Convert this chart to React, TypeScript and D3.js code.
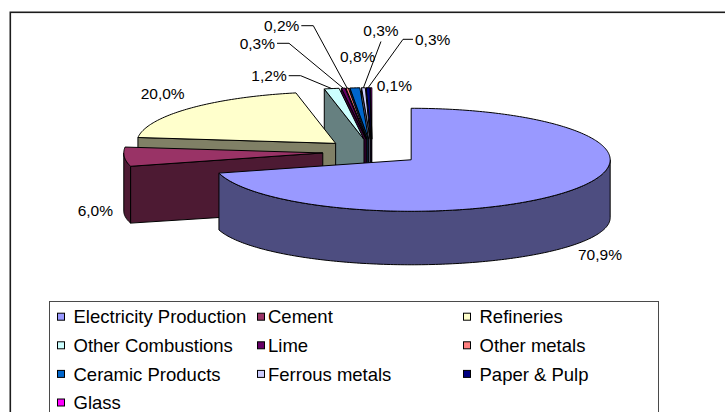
import React from 'react';
import * as d3 from 'd3';

// Sector shares (%), in drawing order clockwise from 12 o'clock
const categories = [
  'Electricity Production',
  'Cement',
  'Refineries',
  'Other Combustions',
  'Lime',
  'Other metals',
  'Ceramic Products',
  'Ferrous metals',
  'Paper & Pulp',
  'Glass',
];
const shares = [70.9, 6.0, 20.0, 1.2, 0.3, 0.2, 0.8, 0.3, 0.3, 0.1];
const fillColors = [
  '#9999FF',
  '#993366',
  '#FFFFCC',
  '#CCFFFF',
  '#660066',
  '#FF8080',
  '#0066CC',
  '#CCCCFF',
  '#000080',
  '#FF00FF',
];

// Data label layout: anchor x, centre y, text alignment and leader style
const labelX = [578, 113, 140.7, 286.7, 275, 299.3, 340, 363.3, 415, 376.7];
const labelY = [254.5, 210, 93, 75.7, 43.3, 25.7, 56.7, 30, 39.3, 85];
const labelAlign = ['start', 'end', 'start', 'end', 'end', 'end', 'start', 'start', 'start', 'start'];
const leaderKind = ['none', 'none', 'none', 'right', 'right', 'right', 'none', 'below', 'left', 'none'];

// Legend grid
const legendCols = 3;
const legendSwatchX = [57, 257, 463];
const legendTextX = [73.5, 268, 479.5];

const W = 725;
const H = 412;

// 3-D pie projection
const pieCx = 372;
const pieCy = 152;
const rx = 199;
const ry = 51.5;
const depth = 58;
const ryBottom = 47;
const explode = 0.248;

const labelFont = '"Liberation Sans", Arial, sans-serif';
const labelSize = 15.5;
const legendSize = 18.5;

type Pt = [number, number];

function topPt(c: Pt, a: number): Pt {
  return [c[0] + rx * Math.sin(a), c[1] - ry * Math.cos(a)];
}
function botPt(c: Pt, a: number): Pt {
  return [c[0] + rx * Math.sin(a), c[1] + depth - ryBottom * Math.cos(a)];
}
function arcPts(c: Pt, a0: number, a1: number, f: (c: Pt, a: number) => Pt): Pt[] {
  const n = Math.max(2, Math.ceil(Math.abs(a1 - a0) / (Math.PI / 180)));
  return d3.range(n + 1).map((k) => f(c, a0 + ((a1 - a0) * k) / n));
}

const fmt = (v: number) => d3.format('.1f')(v).replace('.', ',') + '%';

export default function App() {
  const pie = d3
    .pie<number>()
    .sort(null)
    .value((d) => d)
    .startAngle(0)
    .endAngle(2 * Math.PI);
  const arcs = pie(shares);
  const line = d3.line<Pt>();
  const closed = (pts: Pt[]) => (line(pts) || '') + 'Z';

  const slices = arcs.map((a, i) => {
    const a0 = a.startAngle;
    const a1 = a.endAngle;
    const mid = (a0 + a1) / 2;
    const c: Pt = [pieCx + explode * rx * Math.sin(mid), pieCy - explode * ry * Math.cos(mid)];
    const cb: Pt = [c[0], c[1] + depth];
    const base = d3.rgb(fillColors[i]);
    const side = d3.rgb(base.r * 0.5, base.g * 0.5, base.b * 0.5).formatHex();
    const faces: { d: string; fill: string }[] = [];
    // radial face at the start edge
    if (Math.sin(a0) < -1e-6) {
      faces.push({ d: closed([c, topPt(c, a0), botPt(c, a0), cb]), fill: side });
    }
    // radial face at the end edge
    if (Math.sin(a1) > 1e-6) {
      faces.push({ d: closed([c, topPt(c, a1), botPt(c, a1), cb]), fill: side });
    }
    // outer wall, only the part that faces the viewer
    const s = Math.max(a0, Math.PI / 2);
    const e = Math.min(a1, (3 * Math.PI) / 2);
    if (e > s) {
      const top = arcPts(c, s, e, topPt);
      const bot = arcPts(c, e, s, botPt);
      faces.push({ d: closed([...top, ...bot]), fill: side });
    }
    const topFace = closed([c, ...arcPts(c, a0, a1, topPt)]);
    const rim = topPt(c, mid);
    return { i, c, faces, topFace, fill: fillColors[i], rim };
  });

  const order = [...slices].sort((p, q) => p.c[1] - q.c[1]);

  const approxWidth = (txt: string, size: number) => {
    const w: Record<string, number> = { ',': 0.278, '%': 0.889 };
    return d3.sum(txt.split(''), (ch) => w[ch] ?? 0.556) * size;
  };

  const legendRow = d3
    .scaleLinear()
    .domain([0, 1])
    .range([316.7, 316.7 + 28.6]);

  return (
    <svg
      width={W}
      height={H}
      style={{ position: 'absolute', left: 0, top: 0, background: '#fff' }}
      fontFamily={labelFont}
    >
      <rect x={10.3} y={12.3} width={W + 40} height={H + 40} fill="#fff" stroke="#1c1c1c" strokeWidth={1.6} />

      <g stroke="#000" strokeWidth={1} strokeLinejoin="round">
        {order.map((s) => (
          <g key={s.i}>
            {s.faces.map((f, k) => (
              <path key={k} d={f.d} fill={f.fill} />
            ))}
            <path d={s.topFace} fill={s.fill} />
          </g>
        ))}
      </g>

      <g fontSize={labelSize} fill="#000">
        {slices.map((s) => {
          const txt = fmt(shares[s.i]);
          const x = labelX[s.i];
          const y = labelY[s.i];
          const w = approxWidth(txt, labelSize);
          const kind = leaderKind[s.i];
          let leader: Pt[] | null = null;
          if (kind === 'right') {
            const x0 = labelAlign[s.i] === 'end' ? x + 2 : x + w + 2;
            leader = [[x0, y], [x0 + 12, y], s.rim];
          } else if (kind === 'left') {
            const x0 = x - 2;
            leader = [[x0, y], [x0 - 10, y], s.rim];
          } else if (kind === 'below') {
            const xc = labelAlign[s.i] === 'end' ? x - w / 2 : x + w / 2;
            leader = [[xc, y + 11.5], s.rim];
          }
          return (
            <g key={s.i}>
              {leader && <path d={line(leader) || ''} fill="none" stroke="#000" strokeWidth={1} />}
              <text x={x} y={y + 0.358 * labelSize} textAnchor={labelAlign[s.i]}>
                {txt}
              </text>
            </g>
          );
        })}
      </g>

      <g>
        <rect x={49.5} y={301.5} width={609} height={160} fill="#fff" stroke="#4a4a4a" strokeWidth={1} />
        {categories.map((name, i) => {
          const col = i % legendCols;
          const row = Math.floor(i / legendCols);
          const cy = legendRow(row);
          return (
            <g key={name}>
              <rect
                x={legendSwatchX[col] + 0.5}
                y={cy - 3.5}
                width={7}
                height={7}
                fill={fillColors[i]}
                stroke="#000"
                strokeWidth={1}
              />
              <text x={legendTextX[col]} y={cy + 0.358 * legendSize} fontSize={legendSize} fill="#000">
                {name}
              </text>
            </g>
          );
        })}
      </g>
    </svg>
  );
}
